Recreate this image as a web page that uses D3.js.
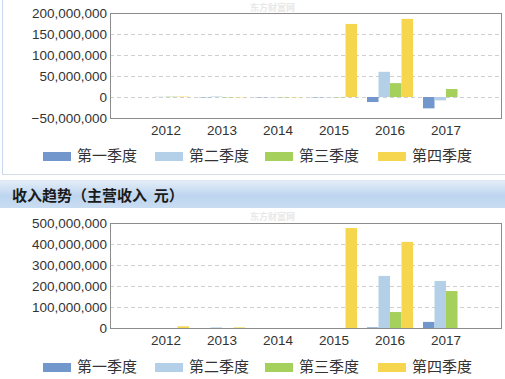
<!DOCTYPE html>
<html><head><meta charset="utf-8">
<script src="https://cdn.jsdelivr.net/npm/d3@7"></script>
<style>
html,body{margin:0;padding:0;background:#fff;}
svg{display:block;}
</style></head>
<body>
<svg id="c" width="505" height="379"></svg>
<script>
const years = ["2012","2013","2014","2015","2016","2017"];
const seriesNames = ["第一季度","第二季度","第三季度","第四季度"];
const colors = ["#7197cc","#b4cfe8","#a6d05c","#f6d64e"];
// top chart (profit), yuan
const profitQ1 = [0, -0.8e6, -0.8e6, -0.8e6, -12e6, -27e6];
const profitQ2 = [0.6e6, 1.2e6, -0.8e6, -0.8e6, 60e6, -8e6];
const profitQ3 = [0.8e6, -0.8e6, -0.8e6, -0.8e6, 33e6, 19e6];
const profitQ4 = [1.0e6, -0.8e6, -0.8e6, 174e6, 186e6, 0];
const profitTicks = [-50e6, 0, 50e6, 100e6, 150e6, 200e6];
// bottom chart (revenue), yuan
const revQ1 = [0, 0, 0, 0, 3e6, 29e6];
const revQ2 = [0, 3e6, 0, 0, 248e6, 224e6];
const revQ3 = [0, 0, 0, 0, 76e6, 176e6];
const revQ4 = [8e6, 3e6, 0, 476e6, 410e6, 0];
const revTicks = [0, 100e6, 200e6, 300e6, 400e6, 500e6];
const title2 = "收入趋势（主营收入  元）";

const svg = d3.select("#c");
const numFont = "'Liberation Sans', Arial, sans-serif";
const cjkFont = "'Noto Sans CJK SC', 'Noto Sans', sans-serif";

const defs = svg.append("defs");
const g = defs.append("linearGradient").attr("id","tb").attr("x1",0).attr("y1",0).attr("x2",0).attr("y2",1);
g.append("stop").attr("offset","0%").attr("stop-color","#e3edf8");
g.append("stop").attr("offset","55%").attr("stop-color","#bdd5ef");
g.append("stop").attr("offset","100%").attr("stop-color","#c9ddf2");

// panel borders
svg.append("line").attr("x1",2.5).attr("x2",2.5).attr("y1",0).attr("y2",174).attr("stroke","#c6d8ec");
svg.append("line").attr("x1",2).attr("x2",505).attr("y1",174.5).attr("y2",174.5).attr("stroke","#d3dde8");
svg.append("line").attr("x1",0).attr("x2",505).attr("y1",180.5).attr("y2",180.5).attr("stroke","#dfe8f2");
svg.append("rect").attr("x",0).attr("y",181).attr("width",505).attr("height",27).attr("fill","url(#tb)");
svg.append("text").attr("x",12).attr("y",201).attr("font-family",cjkFont).attr("font-weight","bold")
  .attr("font-size",15).attr("fill","#1a1a1a").style("white-space","pre").text(title2);

function drawChart(opts){
  const {top,bottom,domain,ticks,data,legendY,wmY} = opts;
  const left = 110, right = 502;
  const x = d3.scaleBand().domain(years).range([left,right]).paddingInner(0).paddingOuter(0.5);
  const xi = d3.scaleBand().domain(d3.range(4)).range([-23,23]);
  const y = d3.scaleLinear().domain(domain).range([bottom,top]);
  const root = svg.append("g");
  // watermark
  root.append("text").attr("x",250).attr("y",wmY).attr("font-family",cjkFont).attr("font-size",9)
    .attr("fill","#e8e8e8").attr("font-weight","bold").text("东方财富网");
  // grid
  root.append("g").selectAll("line").data(ticks.filter(t=>t>domain[0] && t<domain[1])).join("line")
    .attr("x1",left).attr("x2",right).attr("y1",d=>Math.round(y(d))+0.5).attr("y2",d=>Math.round(y(d))+0.5)
    .attr("stroke","#cfcfcf").attr("stroke-dasharray","4,3");
  // bars
  data.forEach((vals,si)=>{
    root.append("g").selectAll("rect").data(vals.map((v,i)=>({v,yr:years[i]}))).join("rect")
      .attr("x",d=>x(d.yr)+x.bandwidth()/2+xi(si))
      .attr("width",xi.bandwidth())
      .attr("y",d=>Math.min(y(d.v),y(0)))
      .attr("height",d=>Math.abs(y(d.v)-y(0)))
      .attr("fill",colors[si]);
  });
  // frame
  root.append("rect").attr("x",left+0.5).attr("y",top+0.5).attr("width",right-left-1).attr("height",bottom-top)
    .attr("fill","none").attr("stroke","#8c8c8c");
  // y axis
  const ya = d3.axisLeft(y).tickValues(ticks).tickSize(0).tickPadding(3).tickFormat(d3.format(","));
  const yg = root.append("g").attr("transform",`translate(${left},0)`).call(ya);
  yg.select(".domain").remove();
  yg.selectAll("text").attr("font-family",numFont).attr("font-size",13.5).attr("fill","#333");
  // x axis
  const xa = d3.axisBottom(x).tickSize(0).tickPadding(7);
  const xg = root.append("g").attr("transform",`translate(0,${bottom})`).call(xa);
  xg.select(".domain").remove();
  xg.selectAll("text").attr("font-family",numFont).attr("font-size",13.5).attr("fill","#333");
  // legend
  const lx = [43,155,265,378];
  const lg = root.append("g").selectAll("g").data(seriesNames).join("g")
    .attr("transform",(d,i)=>`translate(${lx[i]},${legendY})`);
  lg.append("rect").attr("x",0).attr("y",-4).attr("width",28).attr("height",9).attr("fill",(d,i)=>colors[i]);
  lg.append("text").attr("x",34).attr("y",0).attr("dy","0.36em").attr("font-family",cjkFont)
    .attr("font-size",15).attr("fill","#333").text(d=>d);
}

drawChart({top:13,bottom:118,domain:[-50e6,200e6],ticks:profitTicks,
  data:[profitQ1,profitQ2,profitQ3,profitQ4],legendY:156,wmY:11});
drawChart({top:223,bottom:328,domain:[0,500e6],ticks:revTicks,
  data:[revQ1,revQ2,revQ3,revQ4],legendY:367,wmY:220});
</script>
</body></html>
